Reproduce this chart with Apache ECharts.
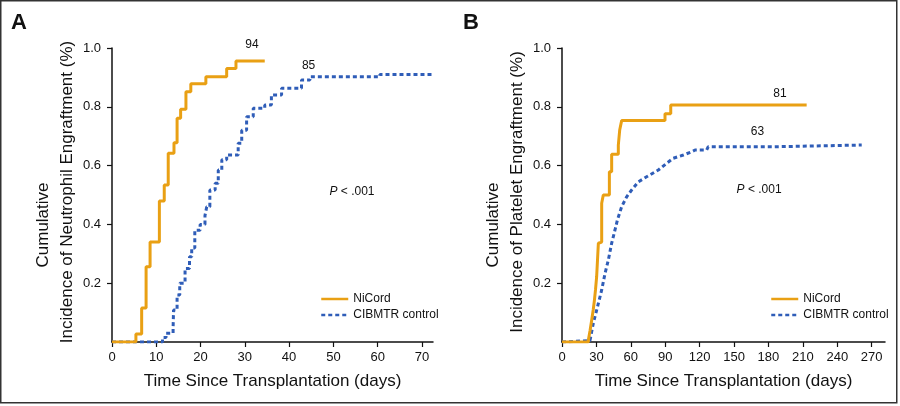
<!DOCTYPE html>
<html>
<head>
<meta charset="utf-8">
<script src="https://cdn.jsdelivr.net/npm/echarts@6/dist/echarts.min.js"></script>
<style>html,body{margin:0;padding:0;background:#fff;}#c{width:900px;height:406px;}</style>
</head>
<body>
<div id="c"></div>
<script>
// Panel A: neutrophil engraftment (days, cumulative incidence)
const nicordA_days = [0, 5.4, 6.7, 7.7, 8.6, 10.7, 11.8, 12.7, 14.0, 14.7, 15.5, 16.7, 17.8, 21.2, 25.9, 28.0, 34.5];
const nicordA_vals = [0, 0.027, 0.116, 0.256, 0.34, 0.48, 0.534, 0.642, 0.678, 0.761, 0.792, 0.851, 0.878, 0.902, 0.93, 0.956, 0.956];
const controlA_days = [0, 11.4, 12.2, 13.8, 13.9, 14.7, 15.3, 16.5, 17.5, 18.0, 18.7, 19.9, 21.0, 21.4, 22.1, 23.3, 24.0, 24.8, 25.9, 28.5, 29.3, 30.4, 31.9, 34.5, 36.0, 38.3, 42.8, 44.7, 60.5, 72.7];
const controlA_vals = [0, 0.015, 0.03, 0.047, 0.109, 0.16, 0.2, 0.25, 0.29, 0.32, 0.38, 0.4, 0.43, 0.46, 0.517, 0.54, 0.585, 0.62, 0.636, 0.676, 0.72, 0.766, 0.795, 0.806, 0.84, 0.863, 0.891, 0.902, 0.91, 0.91];

// Panel B: platelet engraftment
const nicordB_days = [0, 23.0, 24.5, 25.9, 27.2, 28.2, 29.2, 30.2, 31.7, 33.0, 34.6, 36.0, 41.3, 43.3, 49.1, 50.3, 52.0, 89.8, 94.8, 213.3];
const nicordB_vals = [0, 0.007, 0.04, 0.075, 0.109, 0.14, 0.177, 0.222, 0.336, 0.34, 0.472, 0.5, 0.579, 0.639, 0.67, 0.721, 0.753, 0.776, 0.806, 0.806];
const controlB_days = [0, 24.4, 27.3, 31.7, 34.6, 37.5, 40.4, 43.3, 46.2, 48.3, 52.0, 56.4, 60.7, 66.6, 73.8, 84.0, 91.3, 97.0, 105.8, 113.0, 116.0, 126.1, 127.5, 184.2, 185.7, 261.3];
const controlB_vals = [0, 0.005, 0.064, 0.131, 0.177, 0.233, 0.279, 0.336, 0.381, 0.415, 0.46, 0.494, 0.517, 0.545, 0.562, 0.585, 0.608, 0.625, 0.636, 0.647, 0.653, 0.653, 0.664, 0.664, 0.67, 0.67];

const xTicksA = [0, 10, 20, 30, 40, 50, 60, 70];
const xTicksB = [0, 30, 60, 90, 120, 150, 180, 210, 240, 270];
const yTicks = [0.2, 0.4, 0.6, 0.8, 1.0];

const seriesNames = ['NiCord', 'CIBMTR control'];
const endLabelsA = [{text: '94', x: 31.6, y: 1.01}, {text: '85', x: 44.4, y: 0.941}];
const endLabelsB = [{text: '81', x: 190, y: 0.845}, {text: '63', x: 170.4, y: 0.714}];
const pTextPosA = {x: 54.2, y: 0.511};
const pTextPosB = {x: 171.8, y: 0.517};
const yTitlesA = ['Cumulative', 'Incidence of Neutrophil Engraftment (%)'];
const yTitlesB = ['Cumulative', 'Incidence of Platelet Engraftment (%)'];
const xTitle = 'Time Since Transplantation (days)';

const ORANGE = '#E9A014';
const BLUE = '#2F5DB8';
const FONT = "'Liberation Sans', Arial, sans-serif";

function zip(a, b) { return a.map((v, i) => [v, b[i]]); }

function xAxisCfg(grid, max, ticks) {
  return {
    type: 'value', gridIndex: grid, min: 0, max: max,
    axisLine: {show: true, lineStyle: {color: '#111', width: 1.5}},
    axisTick: {show: true, length: 5, lineStyle: {color: '#111', width: 1.2}, customValues: ticks},
    axisLabel: {color: '#111', fontSize: 13, fontFamily: FONT, margin: 9, customValues: ticks},
    splitLine: {show: false}
  };
}
function yAxisCfg(grid) {
  return {
    type: 'value', gridIndex: grid, min: 0, max: 1, interval: 0.2,
    axisLine: {show: true, lineStyle: {color: '#111', width: 1.5}},
    axisTick: {show: true, length: 5, lineStyle: {color: '#111', width: 1.2}, customValues: yTicks},
    axisLabel: {color: '#111', fontSize: 13, fontFamily: FONT, margin: 11, customValues: yTicks,
      formatter: v => v.toFixed(1)},
    splitLine: {show: false}
  };
}
function legendCfg(left) {
  return {
    data: seriesNames, orient: 'vertical', left: left, top: 288,
    itemWidth: 27, itemHeight: 14, itemGap: 4, selectedMode: false,
    textStyle: {color: '#111', fontSize: 12, fontFamily: FONT},
    itemStyle: {opacity: 0, borderWidth: 0},
    lineStyle: {width: 2.5}
  };
}

const chart = echarts.init(document.getElementById('c'), null, {renderer: 'canvas'});
const option = {
  animation: false,
  backgroundColor: '#fff',
  grid: [
    {left: 112, top: 48, width: 321, height: 294},
    {left: 562, top: 48, width: 323, height: 294}
  ],
  xAxis: [xAxisCfg(0, 72.5, xTicksA), xAxisCfg(1, 281.6, xTicksB)],
  yAxis: [yAxisCfg(0), yAxisCfg(1)],
  legend: [legendCfg(315), legendCfg(765)],
  series: [
    {name: 'NiCord', type: 'line', xAxisIndex: 0, yAxisIndex: 0, step: 'end', symbol: 'none',
      data: zip(nicordA_days, nicordA_vals), lineStyle: {color: ORANGE, width: 3}, itemStyle: {color: ORANGE}, z: 3},
    {name: 'CIBMTR control', type: 'line', xAxisIndex: 0, yAxisIndex: 0, step: 'end', symbol: 'none',
      data: zip(controlA_days, controlA_vals), lineStyle: {color: BLUE, width: 3, type: [4, 3]}, itemStyle: {color: BLUE}, z: 2},
    {name: 'NiCord', type: 'line', xAxisIndex: 1, yAxisIndex: 1, step: 'end', symbol: 'none',
      data: zip(nicordB_days, nicordB_vals), lineStyle: {color: ORANGE, width: 3}, itemStyle: {color: ORANGE}, z: 3},
    {name: 'CIBMTR control', type: 'line', xAxisIndex: 1, yAxisIndex: 1, symbol: 'none',
      data: zip(controlB_days, controlB_vals), lineStyle: {color: BLUE, width: 3, type: [4, 3]}, itemStyle: {color: BLUE}, z: 2}
  ]
};
chart.setOption(option);

function txt(x, y, text, opts) {
  return Object.assign({type: 'text', x: x, y: y, silent: true,
    style: Object.assign({text: text, fill: '#111', font: '12px ' + FONT, align: 'center', verticalAlign: 'middle'}, opts && opts.style || {})},
    opts && opts.rotation ? {rotation: opts.rotation} : {});
}
const g = [];
g.push({type: 'rect', shape: {x: 0.75, y: 0.75, width: 896, height: 402}, style: {fill: null, stroke: '#333', lineWidth: 1.5}, silent: true});
g.push(txt(19, 23, 'A', {style: {font: 'bold 22px ' + FONT}}));
g.push(txt(471, 23, 'B', {style: {font: 'bold 22px ' + FONT}}));
[[0, endLabelsA, pTextPosA, yTitlesA], [1, endLabelsB, pTextPosB, yTitlesB]].forEach(([gi, labs, pp, yt]) => {
  labs.forEach(l => {
    const p = chart.convertToPixel({gridIndex: gi}, [l.x, l.y]);
    g.push(txt(p[0], p[1], l.text, {style: {font: '12px ' + FONT}}));
  });
  const p = chart.convertToPixel({gridIndex: gi}, [pp.x, pp.y]);
  g.push({type: 'text', x: p[0], y: p[1], silent: true, style: {
    text: '{i|P} < .001', align: 'center', verticalAlign: 'middle', fill: '#111', font: '12px ' + FONT,
    rich: {i: {fontStyle: 'italic', fontSize: 12, fontFamily: FONT, fill: '#111'}}}});
  const left = gi === 0 ? 0 : 450;
  const gx0 = chart.convertToPixel({gridIndex: gi}, [0, 0]);
  const gx1 = chart.convertToPixel({gridIndex: gi}, [gi === 0 ? 72.5 : 281.6, 0]);
  g.push(txt((gx0[0] + gx1[0]) / 2, 381, xTitle, {style: {font: '17px ' + FONT}}));
  g.push(txt(left + 43, 225, yt[0], {rotation: Math.PI / 2, style: {font: '17px ' + FONT}}));
  g.push(txt(left + 67, 192, yt[1], {rotation: Math.PI / 2, style: {font: '17px ' + FONT}}));
});
chart.setOption({graphic: g});
</script>
</body>
</html>
